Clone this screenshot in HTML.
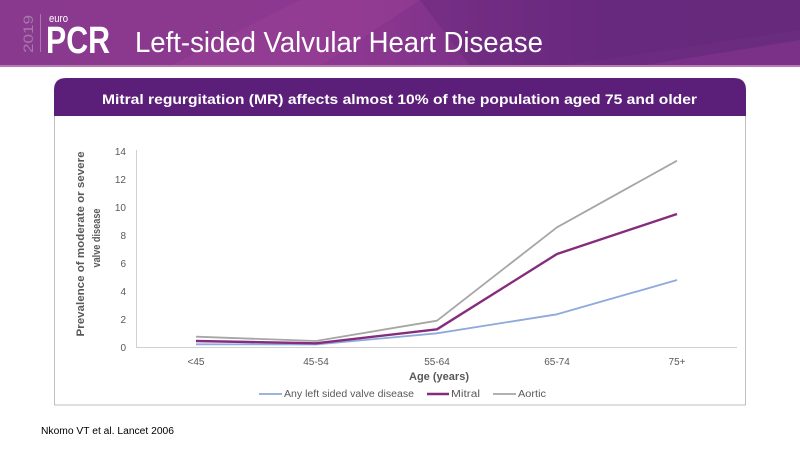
<!DOCTYPE html>
<html><head><meta charset="utf-8"><style>
html,body{margin:0;padding:0;background:#fff;}
svg{display:block;}
</style></head><body>
<svg width="800" height="450" viewBox="0 0 800 450" xmlns="http://www.w3.org/2000/svg">
<defs>
<linearGradient id="hg" x1="0" y1="0" x2="1" y2="0">
<stop offset="0" stop-color="#8a3a8e"/>
<stop offset="0.45" stop-color="#8c3790"/>
<stop offset="0.75" stop-color="#6c2b80"/>
<stop offset="1" stop-color="#6a2c7f"/>
</linearGradient>
</defs>
<rect x="0" y="0" width="800" height="450" fill="#fff"/>
<!-- header -->
<rect x="0" y="0" width="800" height="66" fill="url(#hg)"/>
<polygon points="170,66 300,0 420,0 320,66" fill="#a0449a" opacity="0.35"/>
<polygon points="420,0 800,0 800,30 560,66 470,66" fill="#5e2677" opacity="0.35"/>
<polygon points="640,66 800,40 800,66" fill="#8a3690" opacity="0.5"/>
<rect x="0" y="65" width="800" height="2" fill="#b57ab4"/>
<text transform="translate(33,53) rotate(-90)" font-family="Liberation Sans, sans-serif" font-size="14" fill="#a678ab" textLength="38" lengthAdjust="spacingAndGlyphs">2019</text>
<rect x="40" y="14" width="1" height="38" fill="#a678ab"/>
<text x="49" y="22" font-family="Liberation Sans, sans-serif" font-size="11" fill="#fff" textLength="19" lengthAdjust="spacingAndGlyphs">euro</text>
<text x="46" y="53" font-family="Liberation Sans, sans-serif" font-size="38" font-weight="bold" fill="#fff" textLength="64" lengthAdjust="spacingAndGlyphs">PCR</text>
<text x="135" y="52" font-family="Liberation Sans, sans-serif" font-size="29" fill="#fff" textLength="408" lengthAdjust="spacingAndGlyphs">Left-sided Valvular Heart Disease</text>
<!-- chart box -->
<rect x="54.5" y="100" width="691" height="305" fill="#fff" stroke="#bfbfbf" stroke-width="1"/>
<path d="M54,116 L54,90 Q54,78 66,78 L734,78 Q746,78 746,90 L746,116 Z" fill="#5c1f79"/>
<text x="102" y="104" font-family="Liberation Sans, sans-serif" font-size="14" font-weight="bold" fill="#fff" textLength="595" lengthAdjust="spacingAndGlyphs">Mitral regurgitation (MR) affects almost 10% of the population aged 75 and older</text>
<!-- axes -->
<line x1="136.5" y1="150" x2="136.5" y2="347" stroke="#d0d0d0" stroke-width="1"/>
<line x1="136" y1="347.5" x2="737" y2="347.5" stroke="#d0d0d0" stroke-width="1"/>
<g font-family="Liberation Sans, sans-serif" font-size="10" fill="#595959" text-anchor="end">
<text x="126" y="351">0</text>
<text x="126" y="323">2</text>
<text x="126" y="295">4</text>
<text x="126" y="267">6</text>
<text x="126" y="239">8</text>
<text x="126" y="211">10</text>
<text x="126" y="183">12</text>
<text x="126" y="155">14</text>
</g>
<g font-family="Liberation Sans, sans-serif" font-size="10" fill="#595959" text-anchor="middle">
<text x="196" y="365">&lt;45</text>
<text x="316" y="365">45-54</text>
<text x="437" y="365">55-64</text>
<text x="557" y="365">65-74</text>
<text x="677" y="365">75+</text>
</g>
<text x="439" y="380" font-family="Liberation Sans, sans-serif" font-size="11" font-weight="bold" fill="#595959" text-anchor="middle" textLength="60" lengthAdjust="spacingAndGlyphs">Age (years)</text>
<text transform="translate(84,244) rotate(-90)" font-family="Liberation Sans, sans-serif" font-size="11" font-weight="bold" fill="#595959" text-anchor="middle" textLength="185" lengthAdjust="spacingAndGlyphs">Prevalence of moderate or severe</text>
<text transform="translate(100,238) rotate(-90)" font-family="Liberation Sans, sans-serif" font-size="11" font-weight="bold" fill="#595959" text-anchor="middle" textLength="59" lengthAdjust="spacingAndGlyphs">valve disease</text>
<!-- series -->
<polyline fill="none" stroke="#a6a6a6" stroke-width="1.8" stroke-linejoin="round" points="196,336.7 316,341 437,320.7 557,227.3 677,160.7"/>
<polyline fill="none" stroke="#8ea9db" stroke-width="1.8" stroke-linejoin="round" points="196,344.3 316,344.5 437,333.3 557,314.3 677,280"/>
<polyline fill="none" stroke="#862c7e" stroke-width="2.4" stroke-linejoin="round" points="196,341 316,343.3 437,329.3 557,254 677,214"/>
<!-- legend -->
<line x1="259" y1="394" x2="282" y2="394" stroke="#8ea9db" stroke-width="1.8"/>
<text x="284" y="397" font-family="Liberation Sans, sans-serif" font-size="10" fill="#595959" textLength="130" lengthAdjust="spacingAndGlyphs">Any left sided valve disease</text>
<line x1="427" y1="394" x2="449" y2="394" stroke="#862c7e" stroke-width="2.4"/>
<text x="451" y="397" font-family="Liberation Sans, sans-serif" font-size="10" fill="#595959" textLength="29" lengthAdjust="spacingAndGlyphs">Mitral</text>
<line x1="493" y1="394" x2="516" y2="394" stroke="#a6a6a6" stroke-width="1.8"/>
<text x="518" y="397" font-family="Liberation Sans, sans-serif" font-size="10" fill="#595959" textLength="28" lengthAdjust="spacingAndGlyphs">Aortic</text>
<!-- footnote -->
<text x="41" y="434" font-family="Liberation Sans, sans-serif" font-size="10" fill="#000" textLength="133" lengthAdjust="spacingAndGlyphs">Nkomo VT et al. Lancet 2006</text>
</svg>
</body></html>
